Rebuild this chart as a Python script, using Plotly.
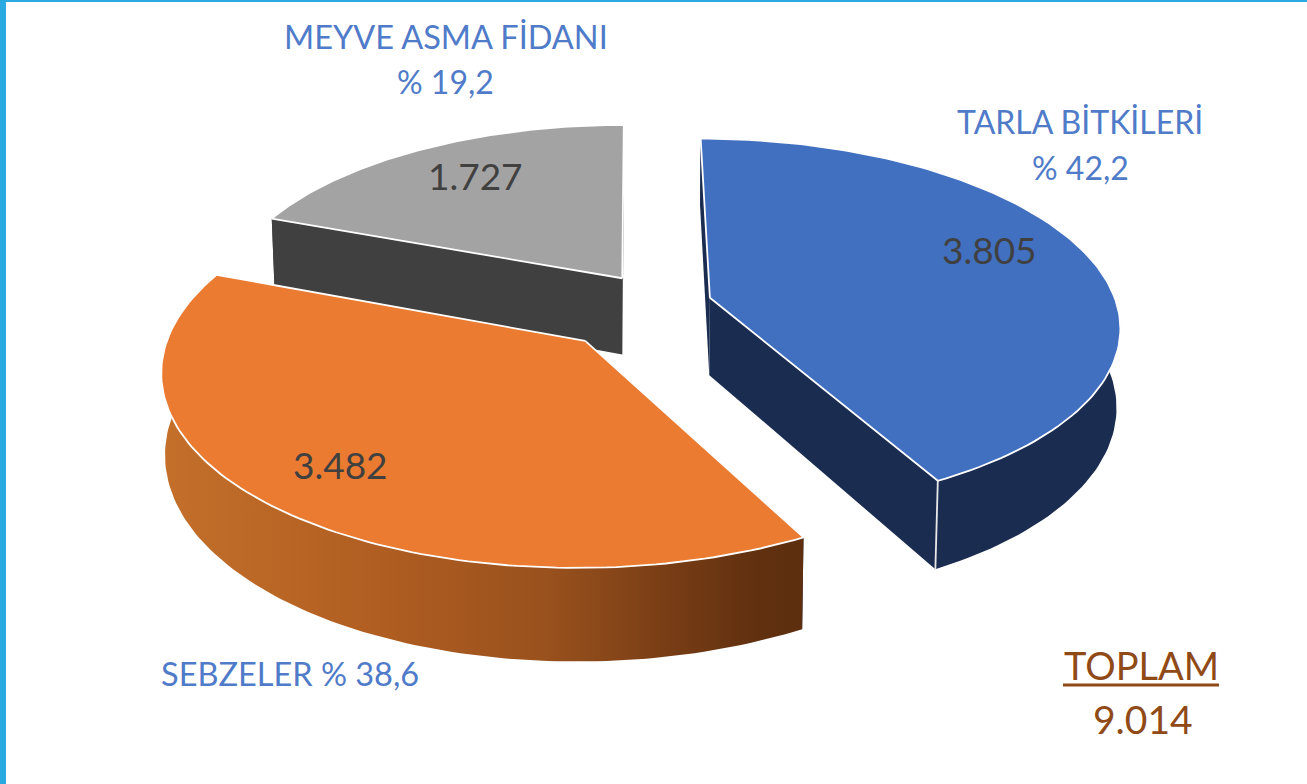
import numpy as np
import plotly.graph_objects as go

# ---- data ----
categories = ["TARLA BİTKİLERİ", "SEBZELER", "MEYVE ASMA FİDANI"]
values = [3805, 3482, 1727]
percent_labels = ["% 42,2", "% 38,6", "% 19,2"]
total_title = "TOPLAM"
total_value = 9014

# ---- styles / geometry of the projected pie ----
CX, CY, A, B, P, DEPTH, SHRINK = 635, 308, 408, 184.5, 0.142, 78, 0.008
pull = [(0.185, -0.056), (-0.119, 0.174), (-0.032, -0.165)]
radius = [1.0, 1.0, 0.99]
top_colors = ["#4270C0", "#EA7B31", "#A3A3A3"]
side_colors = ["#1A2C50", "#1A2C50", "#404040"]
WHITE = "#FFFFFF"
BLUE_TEXT = "#4F7BC9"
GREY_TEXT = "#404040"
BROWN = "#8F4A17"
FONT = "Lato"


def project(X, Y, z=0.0):
    X, Y = np.asarray(X, float), np.asarray(Y, float)
    den = 1 - P * Y
    return CX + A * X * (1 - SHRINK * z) / den, CY + (B * Y + DEPTH * z) / den


def rim(idx, t0, t1, z=0.0, n=120):
    th = np.radians(np.linspace(t0, t1, n))
    ox, oy = pull[idx]
    return project(ox + radius[idx] * np.sin(th), oy - radius[idx] * np.cos(th), z)


fig = go.Figure()


def poly(xs, ys, color=None, line=None, lw=0):
    fig.add_trace(go.Scatter(
        x=list(xs) + [xs[0]], y=list(ys) + [ys[0]], mode="lines", fill="toself",
        fillcolor=color, line=dict(color=line or "rgba(0,0,0,0)", width=lw),
        hoverinfo="skip", showlegend=False))


def radial_face(idx, t, color):
    ox, oy = pull[idx]
    r = np.radians(t)
    q = radius[idx]
    ax0, ay0 = project(ox, oy, 0)
    ax1, ay1 = project(ox, oy, 1)
    bx0, by0 = project(ox + q * np.sin(r), oy - q * np.cos(r), 0)
    bx1, by1 = project(ox + q * np.sin(r), oy - q * np.cos(r), 1)
    poly([ax0, bx0, bx1, ax1], [ay0, by0, by1, ay1], color)


total = sum(values)
angles = np.cumsum([0] + [v / total * 360 for v in values])
ranges = [(angles[i], angles[i + 1]) for i in range(len(values))]
orange_gradient = dict(type="horizontal", colorscale=[
    [0.0, "#C4702B"], [0.35, "#AF5D21"], [0.6, "#99511D"], [0.82, "#733A14"], [0.93, "#60300F"], [1.0, "#5E2F0F"]])

for idx in [2, 1, 0]:
    t0, t1 = ranges[idx]
    radial_face(idx, t0, side_colors[idx])
    radial_face(idx, t1, side_colors[idx])
    tx, ty = rim(idx, t0, t1, 0)
    bx, by = rim(idx, t0, t1, 1)
    wx = np.r_[tx, bx[::-1]]
    wy = np.r_[ty, by[::-1]]
    if idx == 1:
        fig.add_trace(go.Scatter(x=np.r_[wx, wx[0]], y=np.r_[wy, wy[0]], mode="lines", fill="toself",
                                 fillgradient=orange_gradient, line=dict(width=0, color="rgba(0,0,0,0)"),
                                 hoverinfo="skip", showlegend=False))
    else:
        poly(wx, wy, side_colors[idx])
    # top face
    ax, ay = project(*pull[idx], 0)
    poly(np.r_[ax, tx], np.r_[ay, ty], top_colors[idx], WHITE, 1.8)
    if idx == 0:
        # white corner edge between the radial and the outer side
        fig.add_trace(go.Scatter(x=[tx[-1], bx[-1]], y=[ty[-1], by[-1]], mode="lines",
                                 line=dict(color="#E8E8E8", width=1.8), hoverinfo="skip", showlegend=False))

ann = []


def label(x, y, text, size, color):
    ann.append(dict(x=x, y=y, xref="x", yref="y", text=text, showarrow=False, xanchor="center", yanchor="middle",
                    font=dict(family=FONT, size=size, color=color)))


fmt = lambda v: f"{v:,}".replace(",", ".")
label(1080, 121, categories[0], 32, BLUE_TEXT)
label(1080, 167, percent_labels[0], 32, BLUE_TEXT)
label(290, 673, f"{categories[1]} {percent_labels[1]}", 32.5, BLUE_TEXT)
label(446, 36, categories[2], 32.5, BLUE_TEXT)
label(445, 81, percent_labels[2], 32, BLUE_TEXT)
label(989, 249, fmt(values[0]), 37, GREY_TEXT)
label(340, 464, fmt(values[1]), 37, GREY_TEXT)
label(475, 175, fmt(values[2]), 37, GREY_TEXT)
label(1141, 665, total_title, 38, BROWN)
label(1143, 719, fmt(total_value), 39, BROWN)

shapes = [
    dict(type="rect", xref="x", yref="y", x0=0, x1=6, y0=0, y1=784, fillcolor="#29ABE2", line_width=0),
    dict(type="rect", xref="x", yref="y", x0=0, x1=1307, y0=0, y1=2, fillcolor="#29ABE2", line_width=0),
    dict(type="line", xref="x", yref="y", x0=1063, x1=1219, y0=685, y1=685, line=dict(color=BROWN, width=3)),
]

fig.update_layout(
    width=1307, height=784, margin=dict(l=0, r=0, t=0, b=0),
    paper_bgcolor="white", plot_bgcolor="white", showlegend=False,
    xaxis=dict(range=[0, 1307], visible=False, fixedrange=True),
    yaxis=dict(range=[784, 0], visible=False, fixedrange=True),
    annotations=ann, shapes=shapes,
)
fig.write_html("out.html", config={"displayModeBar": False},
               post_script="document.body.style.margin='0';document.body.style.overflow='hidden';")
